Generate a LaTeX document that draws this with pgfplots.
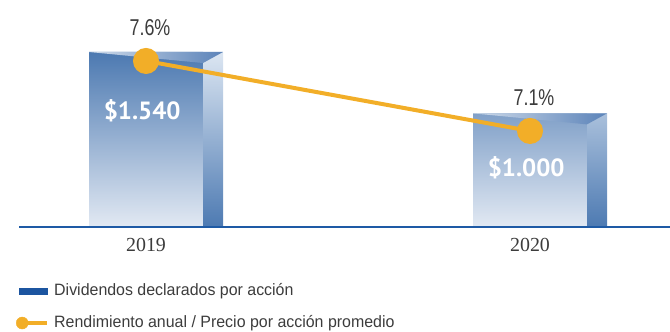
\documentclass[border=0pt]{standalone}
\usepackage{pgfplots}
\pgfplotsset{compat=1.18}
\usepackage{fontspec}
\setmainfont{Liberation Sans}
\newfontfamily\pctfont[FakeStretch=0.78]{Liberation Sans}
\newfontfamily\valfont{PT Sans}
\newfontfamily\yearfont{Liberation Serif}
\newfontfamily\legfont[FakeStretch=0.97]{Liberation Sans}
\definecolor{frontTop}{HTML}{4C79B1}
\definecolor{frontBot}{HTML}{E2E9F3}
\definecolor{sideTop}{HTML}{DCE6F2}
\definecolor{sideBot}{HTML}{4D7AB2}
\definecolor{topLeft}{HTML}{CFDBEA}
\definecolor{topRight}{HTML}{5B83B9}
\definecolor{baseblue}{HTML}{1E5AA5}
\definecolor{legblue}{HTML}{1C55A0}
\definecolor{lineorange}{HTML}{F2AE28}
\definecolor{txtgray}{HTML}{3C3C3C}
\begin{document}
\begin{tikzpicture}
\useasboundingbox (0,-105bp) rectangle (670bp,227bp);
\begin{axis}[
  at={(0,0)}, anchor=south west,
  scale only axis, width=670bp, height=227bp,
  xmin=-0.38021, xmax=1.36458, ymin=0, ymax=1997.6,
  clip=false,
  axis line style={draw=none},
  xtick={0,1}, xticklabels={2019,2020},
  ytick=\empty, major tick length=0pt,
  xticklabel style={font=\yearfont\fontsize{20}{20}\selectfont, text=txtgray, inner sep=0pt, anchor=north, yshift=-11bp},
  legend cell align=left,
  legend style={draw=none, fill=none, inner sep=0pt, outer sep=0pt,
    at={(axis description cs:0.0239,-0.249)}, anchor=north west,
    font=\legfont\fontsize{16.5}{16.5}\selectfont, text=txtgray,
    row sep=17bp, column sep=5bp,
    nodes={inner sep=0pt, text height=12bp, text depth=3bp}},
]
\addlegendimage{legend image code/.code={\fill[legblue] (0bp,-3bp) rectangle (28bp,3bp);}}
\addlegendentry{Dividendos declarados por acción}
\addlegendimage{legend image code/.code={\draw[lineorange, line width=4bp] (3bp,0bp) -- (28bp,0bp); \fill[lineorange] (3bp,0bp) circle (6bp);}}
\addlegendentry{Rendimiento anual / Precio por acción promedio}
% front faces
\addplot[ybar, bar width=114bp, bar shift=0pt, draw=none, top color=frontTop, bottom color=frontBot, forget plot]
  coordinates {(0,1540) (1,1000)};
% side faces
\addplot[ybar, bar width=20bp, bar shift=67bp, draw=none, top color=sideTop, bottom color=sideBot, forget plot]
  coordinates {(0,1540) (1,1000)};
% top faces
\addplot[draw=none, left color=topLeft, right color=topRight, forget plot]
  coordinates {(-0.1484,1540) (0.2005,1540) (0.1484,1443)} -- cycle;
\addplot[draw=none, left color=topLeft, right color=topRight, forget plot]
  coordinates {(0.8516,1000) (1.2005,1000) (1.1484,903)} -- cycle;
\draw[baseblue, line width=2.5bp] (rel axis cs:0.02836,0) -- (rel axis cs:1,0);
\node[font=\valfont\bfseries\fontsize{25}{25}\selectfont, text=white] at (axis cs:-0.01,1021) {\$1.540};
\node[font=\valfont\bfseries\fontsize{25}{25}\selectfont, text=white] at (axis cs:0.99,519) {\$1.000};
\end{axis}
\begin{axis}[
  at={(0,0)}, anchor=south west,
  scale only axis, width=670bp, height=227bp,
  xmin=-0.38021, xmax=1.36458, ymin=6.414, ymax=8.0355,
  hide axis, clip=false,
]
\addplot[lineorange, line width=4bp, mark=*, mark size=11bp, mark options={fill=lineorange, draw=none},
  point meta=explicit symbolic, nodes near coords,
  every node near coord/.append style={font=\pctfont\fontsize{23}{23}\selectfont, text=txtgray, anchor=base, inner sep=0pt, yshift=25.5bp, xshift=4bp}]
  coordinates {(0,7.6) [7.6\%] (1,7.1) [7.1\%]};
\end{axis}
\end{tikzpicture}
\end{document}
